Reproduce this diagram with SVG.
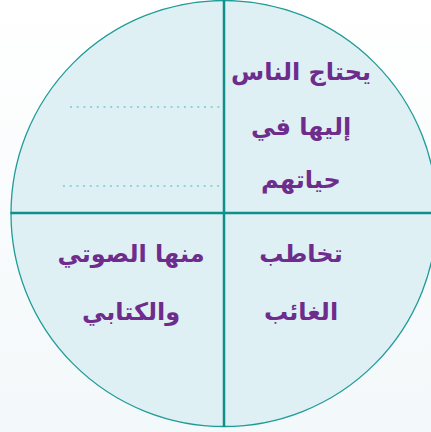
<svg xmlns="http://www.w3.org/2000/svg" width="431" height="432" viewBox="0 0 431 432">
<defs>
<linearGradient id="bg" x1="0" y1="0" x2="0" y2="1">
<stop offset="0" stop-color="#ffffff"/>
<stop offset="1" stop-color="#f3f8fa"/>
</linearGradient>
</defs>
<style>
.t{font-family:"DejaVu Sans",sans-serif;font-weight:bold;font-size:24px;fill:#6e2c8c;text-anchor:middle;direction:rtl}
.dot{stroke:#8fd3dc;stroke-width:2;stroke-dasharray:2 4.7;fill:none}
.div{stroke:#0e8f8a;stroke-width:2.5;fill:none}
</style>
<rect width="431" height="432" fill="url(#bg)"/>
<g id="circle">
<circle cx="224" cy="213.5" r="213" fill="#dff0f4" stroke="#1f9c98" stroke-width="1.3"/>
</g>
<g id="connectors">
<line class="div" x1="224" y1="0.5" x2="224" y2="427"/>
<line class="div" x1="10.5" y1="213" x2="431" y2="213"/>
<line class="dot" x1="70" y1="107" x2="221" y2="107"/>
<line class="dot" x1="63" y1="186" x2="221" y2="186"/>
</g>
<g id="q1">
<text class="t" x="301" y="80">يحتاج الناس</text>
<text class="t" x="301" y="135">إليها في</text>
<text class="t" x="301" y="188">حياتهم</text>
</g>
<g id="q4">
<text class="t" x="301" y="262">تخاطب</text>
<text class="t" x="301" y="320">الغائب</text>
</g>
<g id="q3">
<text class="t" x="131" y="262">منها الصوتي</text>
<text class="t" x="131" y="320">والكتابي</text>
</g>
</svg>
